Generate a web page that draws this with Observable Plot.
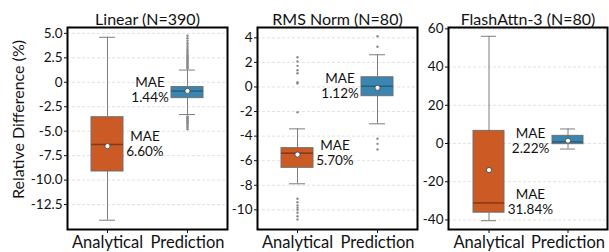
<!DOCTYPE html>
<html><head><meta charset="utf-8">
<script src="https://cdn.jsdelivr.net/npm/d3@7"></script>
<script src="https://cdn.jsdelivr.net/npm/@observablehq/plot@0.6"></script>
<style>
body{margin:0;background:#fff;}
#chart{position:relative;width:609px;height:252px;font-family:Lato,sans-serif;}
#chart svg{position:absolute;top:0;}
</style></head><body><div id="chart"></div>
<script>
// ---- data ----
const categories = ["Analytical", "Prediction"];
const titles = ["Linear (N=390)", "RMS Norm (N=80)", "FlashAttn-3 (N=80)"];
const yAxisLabel = "Relative Difference (%)";

const linearLow    = [-14.1, -3.3];
const linearQ1     = [-9.12, -1.62];
const linearMedian = [-6.36, -0.9];
const linearQ3     = [-3.57, -0.49];
const linearHigh   = [4.6, 1.25];
const linearMean   = [-6.53, -0.88];
const linearMAE    = ["6.60%", "1.44%"];
const linearOutliersAnalytical = [];
const linearOutliersPrediction = [4.75, 4.5, 4.25, 4.0, 3.8, 3.6, 3.4, 3.25, 3.1, 2.95, 2.8, 2.7, 2.6, 2.5, 2.4, 2.3, 2.2, 2.1, 2.0, 1.9, 1.8, 1.7, 1.6, 1.5, 1.4, -3.5, -3.6, -3.7, -3.8, -3.9, -4.0, -4.1, -4.2, -4.35, -4.5, -4.65, -4.8];
const linearTicks  = [5, 2.5, 0, -2.5, -5, -7.5, -10, -12.5];

const rmsLow    = [-7.88, -3.0];
const rmsQ1     = [-6.58, -0.75];
const rmsMedian = [-5.39, 0.06];
const rmsQ3     = [-4.98, 0.79];
const rmsHigh   = [-3.41, 2.62];
const rmsMean   = [-5.5, -0.07];
const rmsMAE    = ["5.70%", "1.12%"];
const rmsOutliersAnalytical = [2.42, 2.07, 1.72, 1.36, 1.12, 0.39, 0.28, -2.05, -9.1, -9.38, -9.65, -9.84, -10.0, -10.24, -10.52, -10.78];
const rmsOutliersPrediction = [4.13, 3.27, -4.22, -4.63, -5.09];
const rmsTicks  = [4, 2, 0, -2, -4, -6, -8, -10];

const flashLow    = [-40.4, -2.9];
const flashQ1     = [-36.2, -0.35];
const flashMedian = [-31.1, 0.85];
const flashQ3     = [6.6, 4.0];
const flashHigh   = [56.1, 7.6];
const flashMean   = [-13.9, 1.5];
const flashMAE    = ["31.84%", "2.22%"];
const flashOutliersAnalytical = [];
const flashOutliersPrediction = [];
const flashTicks  = [60, 40, 20, 0, -20, -40];

const boxColors = ["#CC5A24", "#3A86B0"];
const medianColors = ["#7f3a1a", "#275f7e"];

// ---- layout ----
const FONT = "Lato";
const INK = "#111";
const H = 252, MT = 27, MB = 23;
const panels = [
  {left: 0, width: 230, ml: 67, mr: 3, domain: [-15.05, 5.6], ticks: linearTicks,
   fmt: d => d === 0 ? "0" : d.toFixed(1),
   low: linearLow, q1: linearQ1, med: linearMedian, q3: linearQ3, high: linearHigh, mean: linearMean, mae: linearMAE,
   outA: linearOutliersAnalytical, outP: linearOutliersPrediction, ylabel: true},
  {left: 232, width: 188, ml: 25, mr: 3, domain: [-11.6, 4.84], ticks: rmsTicks,
   fmt: d => String(d),
   low: rmsLow, q1: rmsQ1, med: rmsMedian, q3: rmsQ3, high: rmsHigh, mean: rmsMean, mae: rmsMAE,
   outA: rmsOutliersAnalytical, outP: rmsOutliersPrediction},
  {left: 420, width: 189, ml: 28, mr: 2, domain: [-45, 60.7], ticks: flashTicks,
   fmt: d => String(d),
   low: flashLow, q1: flashQ1, med: flashMedian, q3: flashQ3, high: flashHigh, mean: flashMean, mae: flashMAE,
   outA: flashOutliersAnalytical, outP: flashOutliersPrediction}
];

const ctx = document.createElement("canvas").getContext("2d");
const MAE_SIZE = 13.5;
ctx.font = `${MAE_SIZE}px ${FONT}`;
const textW = s => ctx.measureText(s).width;

const chart = document.getElementById("chart");
panels.forEach((p, pi) => {
  const rows = categories.map((c, i) => ({cat: c, i, low: p.low[i], q1: p.q1[i], med: p.med[i], q3: p.q3[i], high: p.high[i], mean: p.mean[i], mae: p.mae[i]}));
  const outl = [...p.outA.map(v => ({cat: categories[0], v})), ...p.outP.map(v => ({cat: categories[1], v}))];
  const gray = "#7d7d7d";
  const labelDx = r => {
    const off = 18.7 + textW(r.mae) / 2;
    return r.i === 0 ? off : -off;
  };
  const marks = [
    Plot.gridY(p.ticks, {stroke: "#d9d9d9", strokeOpacity: 1, strokeDasharray: "3,2", strokeWidth: 0.8}),
    Plot.ruleX(rows, {x: "cat", y1: "low", y2: "q1", stroke: gray}),
    Plot.ruleX(rows, {x: "cat", y1: "q3", y2: "high", stroke: gray}),
    Plot.tickY(rows, {x: "cat", y: "low", insetLeft: 32, insetRight: 32, stroke: gray}),
    Plot.tickY(rows, {x: "cat", y: "high", insetLeft: 32, insetRight: 32, stroke: gray}),
    Plot.barY(rows, {x: "cat", y1: "q1", y2: "q3", fill: "cat", stroke: "#707070", strokeWidth: 1, insetLeft: 24, insetRight: 24}),
    ...rows.map(r => Plot.tickY([r], {x: "cat", y: "med", stroke: medianColors[r.i], strokeWidth: 1.5, insetLeft: 24, insetRight: 24})),
    Plot.dot(outl, {x: "cat", y: "v", r: 1.2, fill: "#8a8a8a", stroke: "none"}),
    Plot.dot(rows, {x: "cat", y: "mean", r: 2.6, fill: "white", stroke: "#444", strokeWidth: 0.9}),
    ...rows.map(r => Plot.text([r], {x: "cat", y: "med", text: () => "MAE", dx: labelDx(r), dy: -8, fontSize: MAE_SIZE, fill: INK})),
    ...rows.map(r => Plot.text([r], {x: "cat", y: "med", text: "mae", dx: labelDx(r), dy: 7, fontSize: MAE_SIZE, fill: INK})),
    Plot.frame({stroke: "black", strokeWidth: 2}),
    Plot.axisY({ticks: p.ticks, tickFormat: p.fmt, tickSize: 3, tickPadding: 2, label: null, fontSize: 13.5, color: INK}),
    Plot.axisX({tickSize: 4, tickPadding: 3, label: null, fontSize: 16.5, color: INK}),
    Plot.text([titles[pi]], {frameAnchor: "top", dy: -14, fontSize: 16, fill: INK})
  ];
  if (p.ylabel) marks.push(Plot.text([yAxisLabel], {frameAnchor: "left", textAnchor: "middle", dx: -49, dy: -9, rotate: -90, fontSize: 16, fill: INK}));
  const svg = Plot.plot({
    width: p.width, height: H,
    marginLeft: p.ml, marginRight: p.mr, marginTop: MT, marginBottom: MB,
    style: {fontFamily: FONT, background: "white", overflow: "visible"},
    x: {type: "band", domain: categories, padding: 0, axis: null},
    y: {domain: p.domain, axis: null},
    color: {domain: categories, range: boxColors},
    marks
  });
  svg.style.left = p.left + "px";
  chart.appendChild(svg);
});
</script>
</body></html>
